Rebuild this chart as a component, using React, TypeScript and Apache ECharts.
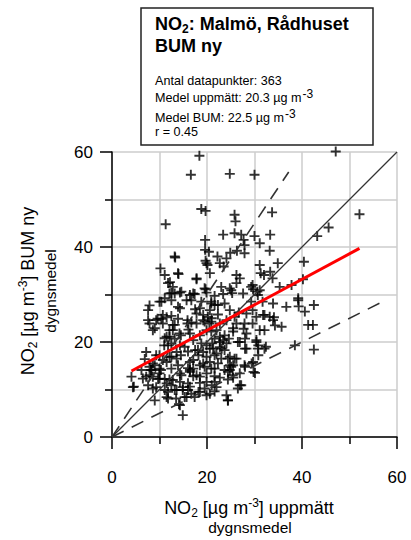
import React, { useEffect, useRef } from 'react';
import * as echarts from 'echarts';

const FONT = "'Liberation Sans', Arial, Helvetica, sans-serif";

// Axis ticks (µg m-3)
const axisMin = 0;
const axisMax = 60;
const axisInterval = 20;

// Scatter: [measured daily mean, BUM daily mean]
const scatterPoints: [number, number][] = [
  [18.4,59.2],[47.1,60.1],[16.6,55.2],[24.8,55.4],[30.0,55.2],[11.3,44.8],[18.8,48.0],[19.7,47.6],[25.8,46.8],[26.0,45.4],
  [33.7,47.3],[52.1,46.9],[45.6,44.1],[43.2,42.3],[19.6,41.5],[23.4,42.6],[25.8,42.9],[27.2,42.6],[27.7,41.5],[30.0,42.3],
  [33.3,42.6],[31.1,40.8],[27.9,40.4],[19.6,39.4],[20.4,39.0],[13.2,38.0],[13.3,37.8],[19.7,37.1],[22.2,38.0],[24.1,37.6],
  [24.9,38.8],[26.3,39.2],[27.9,38.7],[33.2,39.2],[20.1,36.2],[23.5,35.9],[10.2,35.5],[14.0,34.3],[11.1,34.1],[17.8,33.4],
  [11.8,32.4],[12.2,32.6],[31.1,36.2],[34.9,36.6],[40.4,36.9],[31.3,34.5],[32.0,34.1],[33.3,34.8],[26.2,34.1],[26.9,33.4],
  [26.2,32.4],[33.8,33.4],[40.2,33.2],[37.8,32.0],[35.3,31.6],[23.0,31.6],[24.8,31.3],[29.3,31.6],[29.7,31.1],[31.1,30.9],
  [19.7,31.1],[39.2,29.2],
  [10.4,28.5],[12.5,30.3],[14.3,30.4],[16.4,29.9],[17.4,30.1],[19.9,30.4],[21.6,29.7],[23.4,30.1],[25.3,30.3],[30.7,29.9],
  [33.9,28.1],[36.7,27.4],[39.2,28.8],[39.3,27.5],[40.6,26.4],[42.5,27.8],[41.3,23.6],[42.3,23.6],[42.5,18.4],[38.5,19.3],
  [35.7,23.2],[33.9,24.6],[31.8,25.7],[32.1,22.5],[27.9,23.9],[28.3,21.8],[30.4,20.0],[30.7,18.6],[32.4,19.0],[28.3,18.6],
  [26.5,20.0],[25.5,22.2],[24.8,16.9],[26.2,16.5],[27.9,15.1],[29.7,15.8],[29.8,13.7],[26.9,13.4],[25.5,12.5],[26.9,10.9],
  [26.5,10.2],[24.1,8.8],[24.4,7.7],[22.0,10.5],[21.6,11.6],[19.9,8.8],[18.5,9.5],[18.2,9.5],[16.0,9.9],[15.7,8.4],
  [14.9,4.6],[14.3,6.7],[14.1,6.9],[11.5,8.4],[11.8,9.5],[11.1,9.9],[9.0,7.7],[8.6,10.2],[7.2,12.7],[6.5,12.3],
  [4.4,10.5],[4.6,10.6],[4.1,12.7],[6.2,14.1],[7.2,17.9],[9.3,17.2],[6.9,16.4],[7.9,14.8],[8.2,14.1],[8.6,12.7],
  [10.0,13.4],[10.3,14.1],[11.5,15.8],[12.5,16.9],[13.6,17.9],[12.5,14.4],[13.9,15.1],[12.8,12.0],[14.3,11.6],[14.9,10.5],
  [16.0,11.3],[16.4,15.8],[17.1,16.2],[16.4,14.1],[17.8,13.0],[18.5,12.7],[19.9,13.4],[18.5,15.1],[19.5,14.8],[20.6,15.8],
  [21.6,14.4],[22.3,15.5],[23.0,16.5],[22.0,17.6],[23.7,18.3],[24.1,19.7],[21.3,18.6],[21.1,19.7],[22.7,21.1],[23.4,20.4],
  [22.0,22.5],[19.9,22.5],[20.5,23.9],[19.5,24.3],[18.5,21.4],[18.8,19.7],[17.1,20.4],[15.3,19.0],[16.0,18.0],[14.3,19.3],
  [12.5,19.7],[11.5,21.1],[13.2,20.7],[11.0,19.3],[12.1,22.5],[12.8,23.6],[10.7,23.9],[9.6,24.9],[10.7,25.7],[7.9,23.9],
  [7.6,24.6],[9.0,22.9],[13.9,24.9],[15.9,24.6],[16.1,22.6],[14.3,27.1],[12.5,25.5],[17.8,26.0],[19.2,25.7],[20.6,26.7],
  [20.9,28.1],[22.3,27.8],[23.7,28.1],[24.8,26.7],[25.8,25.3],[26.2,23.9],[25.5,22.9],[24.1,24.6],[28.3,26.0],[29.6,26.7],
  [30.4,25.3],[32.1,25.7],[33.2,25.3],[29.6,23.9],[31.1,22.5],[22.7,23.9],[16.7,24.1],[7.6,26.7],[7.9,27.7],[14.5,21.4],
  [16.0,14.5],[17.1,12.8],[14.3,13.4],[10.7,16.2],[8.6,15.5],[7.9,13.0],[10.0,12.3],[11.5,11.3],[12.1,12.1],[13.6,9.9],
  [14.9,9.9],[16.4,10.6],[17.4,8.4],[21.0,10.9],[21.6,9.6],[19.9,11.6],[21.6,12.8],[22.7,12.5],[23.7,14.1],[24.8,14.1],
  [25.5,15.1],[24.4,12.1],[18.5,11.4],[13.6,16.5],[14.5,17.2],[18.2,17.2],[19.2,17.9],[17.5,18.3],[22.7,18.9],[23.7,21.4],
  [24.6,20.7],[22.3,25.8],[21.0,25.0],
  [19.9,36.6],[20.6,34.5],[19.5,31.3],[22.7,36.6],[13.9,34.5],[17.8,33.2],[12.8,31.6],[12.1,30.2],[13.2,30.2],[14.6,30.6],
  [17.1,30.2],[11.1,29.2],[10.0,28.5],[12.5,28.8],[15.7,28.8],[16.7,28.8],[18.8,28.5],[20.9,28.5],[21.6,27.8],[18.5,27.1],
  [17.5,26.9],[13.9,27.4],[9.3,24.6],[10.4,24.9],[11.5,25.2],[8.6,22.5],[13.2,23.6],[12.8,22.5],[14.2,21.8],[15.9,23.9],
  [16.4,21.8],[17.8,23.9],[19.2,24.6],[20.2,25.3],[20.9,24.3],[20.9,22.2],[11.1,20.8],[12.1,21.1],
  [26.7,26.2],[34.1,25.2],[27.7,22.8],[34.3,23.5],[29.3,28.5],[31.7,28.5],[27.6,30.2],[30.6,30.6],[25.1,30.9],[29.6,32.0],
  [9.0,15.1],[7.6,10.9],[9.3,10.5],[11.1,12.2],[12.5,10.9],[13.2,9.9],[11.8,8.1],[13.5,8.1],[15.3,8.4],[16.7,9.1],
  [19.5,10.2],[20.6,9.1],[17.1,14.4],[19.2,15.5],[20.9,14.4],[21.6,17.2],[20.6,18.6],[19.9,19.3],[23.1,18.6],[22.7,20.0],
  [21.6,20.7],[19.9,16.9],[18.1,18.3],[16.4,13.7],[14.6,13.0],[11.8,19.3],[12.1,16.9],[10.0,17.2],[10.0,14.4],[8.3,14.1],
  [9.7,12.2],
  [26.9,20.0],[28.0,20.7],[30.4,20.4],[30.8,19.3],[32.1,18.6],[28.0,18.6],[30.8,17.2],[24.4,16.5],[25.8,16.5],[24.8,15.1],
  [25.1,14.8],[28.0,14.8],[29.4,15.5],[30.1,13.5],[24.4,13.7],[25.4,13.0],[27.2,10.9],[24.4,7.7]
];

// Regression line (red)
const regressionX = [4.1, 52.1];
const regressionY = [13.9, 39.7];

// Reference lines: 1:1 and ±50 %
const oneToOneX = [0, 60];
const oneToOneY = [0, 60];
const upperX = [0, 37.2];
const upperY = [0, 55.8];
const lowerX = [0, 58];
const lowerY = [0, 29];

// Texts
const titleLine1 = '{b|NO}{bs|2}{b|: Malmö, Rådhuset}';
const titleLine2 = '{b|BUM ny}';
const statTexts = [
  '{n|Antal datapunkter: 363}',
  '{n|Medel uppmätt: 20.3 µg m}{p|-3}',
  '{n|Medel BUM: 22.5 µg m}{p|-3}',
  '{n|r = 0.45}',
];
const xName1 = '{a|NO}{s|2}{a| [µg m}{p|-3}{a|] uppmätt}';
const yName1 = '{a|NO}{s|2}{a| [µg m}{p|-3}{a|] BUM ny}';
const axisName2 = 'dygnsmedel';

const zip = (xs: number[], ys: number[]) => xs.map((x, i) => [x, ys[i]]);

export default function App() {
  const ref = useRef<HTMLDivElement>(null);
  useEffect(() => {
    document.body.style.margin = '0';
    if (!ref.current) return;
    const chart = echarts.init(ref.current, undefined, { renderer: 'svg' });

    const axisRich = {
      a: { font: `18px ${FONT}`, fontSize: 18, fontFamily: FONT, fill: '#000' },
      s: { font: `12px ${FONT}`, fontSize: 12, fontFamily: FONT, fill: '#000', padding: [10, 0, 0, 0] },
      p: { font: `12px ${FONT}`, fontSize: 12, fontFamily: FONT, fill: '#000', padding: [0, 0, 10, 0] },
    };
    const boxRich = {
      b: { font: `bold 18px ${FONT}`, fontSize: 18, fontWeight: 'bold', fontFamily: FONT, fill: '#000' },
      bs: { font: `bold 12px ${FONT}`, fontSize: 12, fontWeight: 'bold', fontFamily: FONT, fill: '#000', padding: [10, 0, 0, 0] },
      n: { font: `12.6px ${FONT}`, fontSize: 12.6, fontFamily: FONT, fill: '#000' },
      p: { font: `12px ${FONT}`, fontSize: 12, fontFamily: FONT, fill: '#000', padding: [0, 0, 8, 1] },
    };

    const makeAxis = (margin: number) => ({
      type: 'value',
      min: axisMin,
      max: axisMax,
      interval: axisInterval,
      axisLine: { show: true, onZero: false, lineStyle: { color: '#000', width: 1.5 } },
      axisTick: { show: true, length: 12, lineStyle: { color: '#000', width: 1.5 } },
      minorTick: { show: true, splitNumber: 2, length: 7, lineStyle: { color: '#000', width: 1.5 } },
      splitLine: { show: true, lineStyle: { color: '#cccccc', width: 1.5 } },
      minorSplitLine: { show: true, lineStyle: { color: '#cccccc', width: 1.5 } },
      axisLabel: { fontSize: 17, color: '#000', fontFamily: FONT, margin },
    });

    const statYs = [80.5, 97.5, 117.5, 131.5];

    chart.setOption({
      animation: false,
      backgroundColor: '#fff',
      grid: { left: 112, top: 152, width: 285, height: 285, containLabel: false, outerBoundsMode: 'none' },
      xAxis: makeAxis(32),
      yAxis: makeAxis(19),
      series: [
        {
          type: 'scatter',
          data: scatterPoints,
          symbol: 'path://M5,0 L5,10 M0,5 L10,5',
          symbolSize: 10,
          clip: false,
          itemStyle: { color: 'none', borderColor: '#000', borderWidth: 1.9 },
          z: 2,
        },
        {
          type: 'line', data: zip(oneToOneX, oneToOneY), symbol: 'none',
          lineStyle: { color: '#333', width: 1.3 }, z: 3,
        },
        {
          type: 'line', data: zip(upperX, upperY), symbol: 'none',
          lineStyle: { color: '#333', width: 1.6, type: [13, 9] }, z: 3,
        },
        {
          type: 'line', data: zip(lowerX, lowerY), symbol: 'none',
          lineStyle: { color: '#333', width: 1.6, type: [13, 9] }, z: 3,
        },
        {
          type: 'line', data: zip(regressionX, regressionY), symbol: 'none',
          lineStyle: { color: '#ff0000', width: 3 }, z: 4,
        },
      ],
      graphic: [
        {
          type: 'rect', z: 10,
          shape: { x: 141, y: 8, width: 232, height: 137 },
          style: { fill: '#fff', stroke: '#222', lineWidth: 1.5 },
        },
        {
          type: 'text', z: 11, x: 155, y: 24,
          style: { text: titleLine1, rich: boxRich, align: 'left', verticalAlign: 'middle' },
        },
        {
          type: 'text', z: 11, x: 155, y: 46,
          style: { text: titleLine2, rich: boxRich, align: 'left', verticalAlign: 'middle' },
        },
        ...statTexts.map((t, i) => ({
          type: 'text', z: 11, x: 155, y: statYs[i],
          style: { text: t, rich: boxRich, align: 'left', verticalAlign: 'middle' },
        })),
        {
          type: 'text', x: 249, y: 508,
          style: { text: xName1, rich: axisRich, align: 'center', verticalAlign: 'middle' },
        },
        {
          type: 'text', x: 250, y: 527,
          style: { text: axisName2, font: `15.5px ${FONT}`, fill: '#000', align: 'center', verticalAlign: 'middle' },
        },
        {
          type: 'text', x: 28, y: 291, rotation: Math.PI / 2,
          style: { text: yName1, rich: axisRich, align: 'center', verticalAlign: 'middle' },
        },
        {
          type: 'text', x: 50, y: 291, rotation: Math.PI / 2,
          style: { text: axisName2, font: `15.5px ${FONT}`, fill: '#000', align: 'center', verticalAlign: 'middle' },
        },
      ],
    });
    return () => chart.dispose();
  }, []);
  return <div ref={ref} style={{ width: 411, height: 540 }} />;
}
